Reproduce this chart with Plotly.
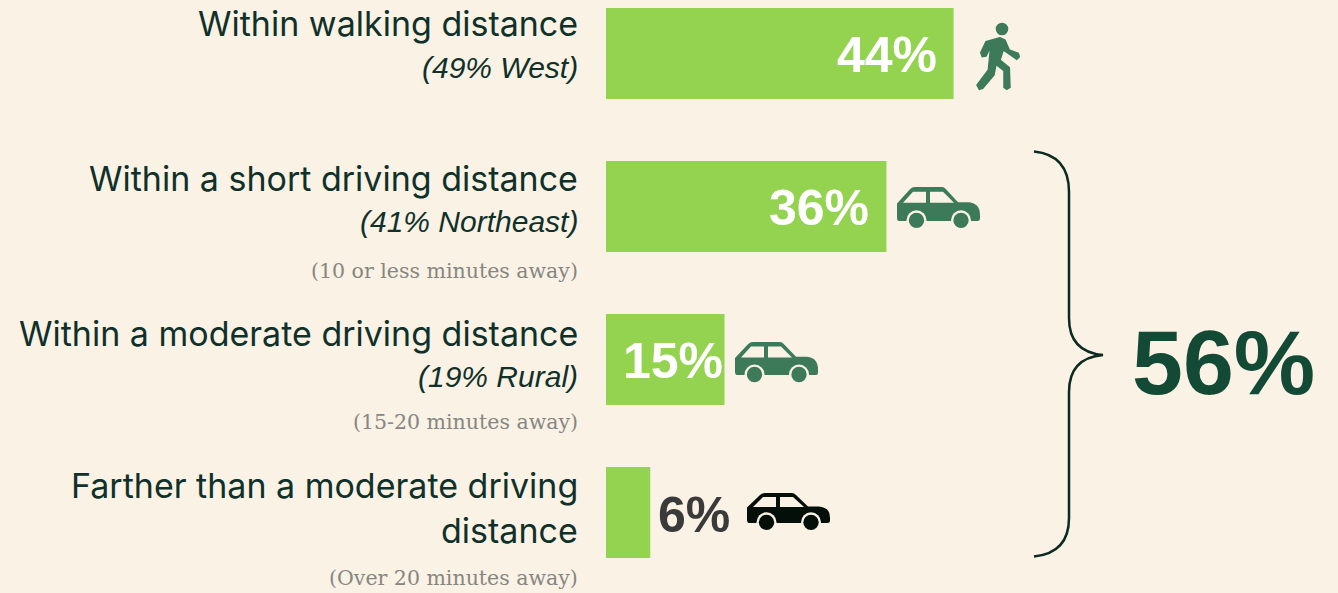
import plotly.graph_objects as go

W, H = 1338, 593
BG = "#FAF2E4"
categories = ["Within walking distance", "Within a short driving distance",
              "Within a moderate driving distance", "Farther than a moderate driving distance"]
values = [44, 35.5, 15, 5.6]
value_labels = ["44%", "36%", "15%", "6%"]
region_notes = ["(49% West)", "(41% Northeast)", "(19% Rural)", None]
minute_notes = [None, "(10 or less minutes away)", "(15-20 minutes away)", "(Over 20 minutes away)"]
total_label = "56%"

MAIN_FONT = "Inter"
MAIN_SIZE = 34
PX_PER_UNIT = 7.9
X0 = 606
LABEL_R = 580

fig = go.Figure(go.Bar(y=categories, x=values, orientation="h", width=0.595,
                       marker=dict(color="#93D350", line_width=0), hoverinfo="skip"))
ann = []

def text(s, x, y, size, color, anchor="right", family=MAIN_FONT, weight=None, italic=False):
    ann.append(dict(text=s, x=x, y=y, xref="x2", yref="y2", xanchor=anchor, yanchor="middle",
                    showarrow=False, align=anchor,
                    font=dict(size=size, color=color, family=family,
                              weight=weight or "normal", style="italic" if italic else "normal")))

DARK = "#10302A"
main_lines = [[("Within walking distance", 23)],
              [("Within a short driving distance", 178)],
              [("Within a moderate driving distance", 333)],
              [("Farther than a moderate driving", 485), ("distance", 530)]]
region_y = [67, 221, 376, None]
minute_y = [None, 271, 422, 578]
for i in range(4):
    for s, y in main_lines[i]:
        text(s, LABEL_R, y, MAIN_SIZE, DARK)
    if region_notes[i]:
        text(region_notes[i], LABEL_R, region_y[i], 30, DARK, family="Liberation Sans", italic=True)
    if minute_notes[i]:
        text(minute_notes[i], LABEL_R, minute_y[i], 20.5, "#868682", family="DejaVu Serif")

PCT = "Liberation Sans"
text(value_labels[0], 939, 55, 50, "white", family=PCT, weight="bold")
text(value_labels[1], 871, 208, 50, "white", family=PCT, weight="bold")
text(value_labels[2], 725, 361, 50, "white", family=PCT, weight="bold")
text(value_labels[3], 732, 515, 50, "#3A3A3A", family=PCT, weight="bold")
text(total_label, 1317, 362, 91.5, "#124A36", family=PCT, weight="bold")

shapes = []

def add_path(d, color, lw=0, fill=True):
    shapes.append(dict(type="path", path=d, xref="x2", yref="y2", layer="above",
                       fillcolor=color if fill else "rgba(0,0,0,0)", fillrule="evenodd",
                       line=dict(color=color, width=lw)))

def circle(cx, cy, r, color):
    shapes.append(dict(type="circle", xref="x2", yref="y2", layer="above",
                       x0=cx - r, x1=cx + r, y0=cy - r, y1=cy + r,
                       fillcolor=color, line_width=0))

def car(x0, y0, sy, color):
    def P(x, y):
        return f"{x0 + x:.1f},{y0 + y * sy:.1f}"
    d = (f"M{P(0, 14)} L{P(13, 2)} Q{P(15, 0)} {P(18, 0)} L{P(45, 0)} Q{P(47, 0)} {P(49, 2)} "
         f"L{P(61, 13)} L{P(72, 13)} Q{P(83, 14)} {P(83, 24)} L{P(83, 27)} Q{P(83, 29)} {P(81, 29)} "
         f"L{P(2, 29)} Q{P(0, 29)} {P(0, 26)} Z "
         f"M{P(6, 13.5)} L{P(16, 4)} L{P(29, 4)} L{P(29, 13.5)} Z "
         f"M{P(33, 4)} L{P(46, 4)} L{P(57, 13.5)} L{P(33, 13.5)} Z")
    add_path(d, color)
    for cx in (19.5, 64):
        circle(x0 + cx, y0 + 28.5 * sy, 10, BG)
        circle(x0 + cx, y0 + 28.5 * sy, 7.7, color)

GREEN = "#3C7A5A"
car(897, 187, 1.17, GREEN)
car(735, 342, 1.14, GREEN)
car(747, 493, 1.03, "#050F0A")

circle(1002, 29, 6.3, GREEN)
man = [(300, 113), (258, 125), (242, 158), (247, 170), (258, 168), (272, 140), (265, 210), (231, 255),
       (238, 268), (248, 265), (282, 225), (288, 193), (312, 212), (312, 262), (320, 268), (330, 262),
       (328, 203), (300, 180), (310, 150), (350, 178), (358, 170), (355, 160), (328, 150), (315, 120)]
add_path("M" + " L".join(f"{900 + x / 3:.1f},{y / 3:.1f}" for x, y in man) + " Z", GREEN, lw=1.5)

add_path("M1034,151.5 Q1069,155 1069,192 L1069,318 Q1069,352 1103,355 "
         "Q1069,358 1069,392 L1069,518 Q1069,553 1034,556.5", "#0C2A20", lw=2.5, fill=False)

fig.update_layout(
    width=W, height=H, margin=dict(l=0, r=0, t=0, b=0),
    paper_bgcolor=BG, plot_bgcolor=BG, showlegend=False,
    xaxis=dict(domain=[0, 1], range=[-X0 / PX_PER_UNIT, (W - X0) / PX_PER_UNIT], visible=False),
    yaxis=dict(domain=[0, 1], type="category", categoryorder="array", categoryarray=categories,
               range=[(H - 53.5) / 153, -53.5 / 153], visible=False),
    xaxis2=dict(overlaying="x", range=[0, W], visible=False, anchor="y2"),
    yaxis2=dict(overlaying="y", range=[H, 0], visible=False, anchor="x2"),
    annotations=ann, shapes=shapes,
)
# keep the overlay axes alive
fig.add_trace(go.Scatter(x=[], y=[], xaxis="x2", yaxis="y2"))
fig.write_html("out.html", config={"displayModeBar": False},
               post_script="document.body.style.margin='0';")
